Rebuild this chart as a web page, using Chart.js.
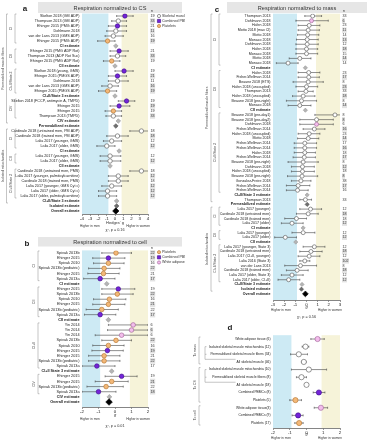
<!DOCTYPE html>
<html>
<head>
<meta charset="utf-8">
<script src="https://cdn.jsdelivr.net/npm/chart.js@4.4.0/dist/chart.umd.min.js"></script>
<style>
body { margin: 0; background: #fff; width: 369px; height: 440px; overflow: hidden; position: relative; }
canvas { position: absolute; }
</style>
</head>
<body>
<canvas id="chartA" width="185" height="234" style="left:0;top:0"></canvas>
<canvas id="chartB" width="185" height="206" style="left:0;top:234px"></canvas>
<canvas id="chartC" width="184" height="322" style="left:185px;top:0"></canvas>
<canvas id="chartD" width="184" height="118" style="left:185px;top:322px"></canvas>
<script>
// ---- panel a: normalized to CS ----
const aLabels = ['Skelton 2018 (GM ADP)', 'Thompson 2013 (GM ADP)', 'Ehinger 2015 (PMG ADP)', 'Dohlmann 2018', 'van der Lans 2013 (GMS ADP)', 'Ehinger 2015 (PMG ADP)', 'CI estimate',
  'Ehinger 2015 (PMG ADP Rot)', 'Thompson 2013 (ADP Rot Suc)', 'Ehinger 2015 (PMG ADP Rot)', 'CII estimate',
  'Skelton 2018 (young, GMS)', 'Ehinger 2015 (PMGS ADP)', 'Dohlmann 2018', 'van der Lans 2013 (GMS ADP)', 'Ehinger 2015 (PMGS ADP)', 'CI+II/State 3 estimate',
  'Skelton 2018 (FCCP, antimycin A, TMPD)', 'Ehinger 2015', 'Ehinger 2015', 'Thompson 2013 (TMPD)', 'CIV estimate', 'Permeabilized estimate',
  'Cardinale 2018 (untrained men, PM ADP)', 'Cardinale 2018 (trained men, PM ADP)', 'Lalia 2017 (younger, GMS)', 'Lalia 2017 (older, GMS)', 'CI estimate',
  'Lalia 2017 (younger, GMS)', 'Lalia 2017 (older, GMS)', 'CII estimate',
  'Cardinale 2018 (untrained men, PMS)', 'Lalia 2017 (younger, palmitoylcarnitine)', 'Cardinale 2018 (trained men, PMS)', 'Lalia 2017 (younger, GMS Cyt c)', 'Lalia 2017 (older, GMS Cyt c)', 'Lalia 2017 (older, palmitoylcarnitine)', 'CI+II/State 3 estimate',
  'Isolated estimate', 'Overall estimate'];
const aG = [1.2, 0.4, 0.3, 0.1, -0.2, -0.9, 0.1, 0.5, 0.3, -0.4, 0.0, 1.1, 0.3, 0.3, -0.6, -0.9, 0.0, 1.4, 0.5, -0.2, -0.2, 0.4, 0.1,
  3.2, 0.3, -0.4, -1.0, 0.5, -0.6, -0.6, -0.6, 3.2, 0.4, 0.4, -0.4, -0.9, -0.9, 0.2, 0.2, 0.1];
const aLo = [0.2, -0.4, -0.8, -1.0, -1.2, -2.1, null, -0.6, -0.6, -1.4, null, 0.0, -0.8, -0.8, -1.6, -2.0, null, 0.4, -0.6, -1.2, -1.1, null, null,
  1.8, -1.0, -1.4, -2.2, null, -1.8, -1.8, null, 1.8, -0.8, -0.8, -1.6, -2.0, -2.0, null, null, null];
const aHi = [2.2, 1.4, 1.4, 1.4, 1.0, 0.0, null, 1.6, 1.3, 0.6, null, 2.2, 1.4, 1.6, 0.4, 0.2, null, 2.4, 1.8, 0.8, 0.8, null, null,
  4.8, 1.6, 0.8, 0.0, null, 0.7, 0.7, null, 4.8, 1.6, 1.6, 0.8, 0.2, 0.2, null, null, null];
const aN = ['19', '33', '21', '11', '16', '19', '', '21', '33', '19', '', '19', '21', '11', '16', '19', '', '19', '19', '19', '33', '', '',
  '18', '18', '12', '12', '', '12', '12', '', '18', '12', '18', '12', '12', '12', '', '', ''];
const aKind = ['p', 's', 'p', 's', 's', 't', 'e', 'p', 's', 't', 'e', 'p', 'p', 's', 's', 't', 'e', 'p', 'p', 't', 's', 'e', 'pe',
  's', 's', 's', 's', 'e', 's', 's', 'e', 's', 's', 's', 's', 's', 's', 'e', 'pe', 'o'];
const aBox = [0, 1, 0, 1, 0, 1, 0, 0, 1, 0, 0, 0, 1, 0, 1, 1, 0, 0, 1, 0, 1, 0, 0,
  0, 1, 0, 1, 0, 0, 1, 0, 0, 1, 0, 1, 1, 1, 0, 0, 0];
const aLegend = ['Skeletal muscle', 'Combined PBMCs', 'Platelets'];
const aLegendKind = ['s', 'p', 't'];

// ---- panel b: normalized to cell ----
const bLabels = ['Spivak 2013b', 'Ehinger 2015', 'Spivak 2010', 'Spivak 2013b (pediatric)', 'Ehinger 2015', 'Spivak 2013a', 'CI estimate',
  'Ehinger 2015', 'Spivak 2013b', 'Spivak 2010', 'Ehinger 2015', 'Spivak 2013b (pediatric)', 'Spivak 2013a', 'CII estimate',
  'Yin 2014', 'Yin 2014', 'Yin 2014', 'Spivak 2013b', 'Spivak 2010', 'Ehinger 2015', 'Ehinger 2015', 'Spivak 2013b (pediatric)', 'Spivak 2013a', 'CI+II State 3 estimate',
  'Ehinger 2015', 'Ehinger 2015', 'Spivak 2013b (pediatric)', 'Spivak 2013a', 'CIV estimate', 'Overall estimate'];
const bG = [0.06, -0.4, -0.4, -0.66, -0.7, -0.9, -0.5, 0.2, 0.14, -0.34, -0.4, -0.8, -0.9, -0.4,
  1.1, 1.0, 0.4, 0.06, -0.4, -0.46, -0.66, -0.66, -1.1, -0.2, 0.4, -0.2, -0.54, -1.0, -0.34, -0.36];
const bLo = [-0.8, -1.35, -1.3, -1.6, -1.65, -1.9, null, -0.8, -0.8, -1.3, -1.35, -1.75, -1.85, null,
  -0.4, -0.45, -1.2, -0.8, -1.35, -1.4, -1.6, -1.6, -2.0, null, -0.6, -1.2, -1.7, -2.0, null, null];
const bHi = [1.0, 0.6, 0.55, 0.3, 0.25, 0.0, null, 1.2, 1.1, 0.66, 0.6, 0.2, 0.05, null,
  2.0, 2.0, 2.0, 1.0, 0.55, 0.5, 0.3, 0.3, 0.0, null, 1.34, 0.8, 0.5, 0.06, null, null];
const bN = ['22', '19', '16', '22', '21', '17', '', '19', '22', '16', '21', '22', '17', '',
  '6', '6', '6', '22', '16', '19', '21', '22', '17', '', '19', '21', '22', '18', '', ''];
const bKind = ['t', 'p', 't', 't', 't', 'p', 'e', 'p', 't', 't', 't', 't', 'p', 'e',
  'w', 'w', 'w', 't', 't', 'p', 't', 't', 'p', 'e', 'p', 't', 't', 'p', 'e', 'o'];
const bBox = [1, 1, 0, 1, 0, 1, 0, 0, 1, 0, 1, 0, 1, 0, 0, 1, 0, 1, 0, 1, 0, 1, 0, 0, 0, 1, 0, 1, 0, 0];
const bLegend = ['Platelets', 'Combined PBMCs', 'White adipose'];
const bLegendKind = ['t', 'p', 'w'];

// ---- panel c: normalized to mass ----
const cLabels = ['Thompson 2013', 'Dohlmann 2018', 'Hafen 2018', 'Motto 2018 (max CI)', 'Motto 2018', 'Monaco 2018', 'Dohlmann 2018', 'Hafen 2018', 'Monaco 2018', 'Motto 2018', 'Monaco 2018', 'CI estimate',
  'Hafen 2018', 'Fisher-Wellman 2014', 'Beaune 2018 (ETS)', 'Hafen 2018 (uncoupled)', 'Thompson 2013', 'Hafen 2018 (uncoupled)', 'Beaune 2018 (pre-night)', 'Monaco 2018', 'CII estimate',
  'Beaune 2018 (pre-day1)', 'Beaune 2018 (pre-day2)', 'Dohlmann 2018', 'Fisher-Wellman 2014', 'Hafen 2018 (uncoupled)', 'Motto 2018', 'Fisher-Wellman 2014', 'Fisher-Wellman 2014', 'Hafen 2018', 'Fisher-Wellman 2014', 'Beaune 2018 (pre-night)', 'Dohlmann 2018', 'Hafen 2018 (uncoupled)', 'Beaune 2018 (pre-night)', 'Gonzalez-Freire 2018', 'Fisher-Wellman 2014', 'Fisher-Wellman 2014', 'CI+II/State 3 estimate',
  'Thompson 2013', 'Permeabilized estimate',
  'Lalia 2017 (younger)', 'Cardinale 2018 (untrained men)', 'Cardinale 2018 (trained men)', 'Lalia 2017 (older)', 'CI estimate',
  'Lalia 2017 (younger)', 'Lalia 2017 (older)', 'CII estimate',
  'Lalia 2017 (younger, State 3)', 'Cardinale 2018 (untrained men)', 'Lalia 2017 (CI+II, younger)', 'Lalia 2016 (State 3)', 'van der Lans 2013', 'Cardinale 2018 (trained men)', 'Lalia 2017 (older, State 3)', 'Lalia 2017 (older, CI+II)', 'CI+II/State 3 estimate',
  'Isolated estimate', 'Overall estimate'];
const cG = [0.55, 0.45, 0.24, 0.15, 0.1, 0.06, 0.06, 0.0, 0.0, -0.6, -1.65, -0.1,
  0.2, 0.2, 0.15, 0.0, -0.05, -0.3, -0.45, -0.6, -0.1,
  2.55, 0.9, 0.9, 0.7, 0.24, 0.15, -0.15, -0.15, -0.15, -0.2, -0.3, -0.36, -0.36, -0.4, -0.5, -0.75, -0.8, 0.06,
  -0.1, 0.06, 0.36, 0.15, -0.9, -1.3, -0.3, -0.3, -1.9, -0.96,
  0.7, 0.4, 0.24, -0.15, -0.54, -0.84, -1.3, -1.6, -0.4, -0.45, -0.1];
const cLo = [-0.15, -0.95, -0.75, -0.75, -0.8, -0.9, -0.95, -0.95, -0.95, -1.55, -2.7, null,
  -0.75, -0.75, -1.2, -0.95, -0.75, -1.25, -1.8, -1.65, null,
  0.75, -0.6, -0.6, -0.3, -0.75, -0.8, -1.1, -1.1, -1.1, -1.2, -1.65, -1.35, -1.35, -1.7, -1.35, -1.8, -1.8, null,
  -0.6, null, -0.6, -0.9, -1.95, -2.25, null, -1.3, -2.85, null,
  -0.3, -0.6, -0.75, -0.6, -1.95, -1.8, -2.25, -2.55, null, null, null];
const cHi = [1.35, 1.95, 1.2, 1.15, 1.1, 1.05, 1.05, 1.0, 1.0, 0.4, -0.75, null,
  1.2, 1.15, 1.5, 1.0, 0.6, 0.75, 0.9, 0.4, null,
  3.8, 2.4, 2.4, 1.65, 1.2, 1.1, 0.9, 0.9, 0.8, 0.8, 1.05, 0.7, 0.7, 1.0, 0.4, 0.3, 0.15, null,
  0.45, null, 1.35, 1.05, 0.0, -0.3, null, 0.75, -0.9, null,
  1.65, 1.4, 1.2, 0.3, 0.9, 0.15, -0.3, -0.6, null, null, null];
const cN = ['33', '6', '23', '11', '14', '13', '12', '18', '15', '14', '14', '',
  '23', '17', '8', '23', '33', '18', '8', '14', '',
  '8', '8', '6', '16', '23', '14', '17', '16', '18', '17', '8', '12', '18', '8', '38', '17', '16', '',
  '33', '', '12', '18', '18', '12', '', '12', '12', '',
  '12', '18', '12', '102', '8', '18', '12', '12', '', '', ''];
const cKind = ['s', 'w', 's', 's', 's', 's', 's', 's', 's', 's', 's', 'e',
  's', 's', 's', 's', 's', 's', 's', 's', 'e',
  's', 's', 'w', 's', 's', 's', 's', 's', 's', 's', 's', 's', 's', 's', 's', 's', 's', 'e',
  's', 'pe', 's', 's', 's', 's', 'e', 's', 's', 'e',
  's', 's', 's', 's', 's', 's', 's', 's', 'e', 'pe', 'o'];
const cBox = [0, 1, 0, 1, 0, 1, 0, 1, 0, 1, 0, 0,
  0, 1, 0, 1, 0, 1, 0, 1, 0,
  0, 1, 0, 1, 0, 1, 0, 1, 0, 1, 0, 1, 0, 1, 0, 1, 0, 0,
  0, 0, 0, 1, 0, 1, 0, 0, 1, 0,
  0, 1, 0, 1, 0, 1, 0, 1, 0, 0, 0];

// ---- panel d: summary by tissue ----
const dLabels = ['White adipose tissue (6)', 'Isolated skeletal muscle mitochondria (12)', 'Permeabilized skeletal muscle fibers (34)', 'All skeletal muscle (46)',
  'Isolated skeletal muscle mitochondria (10)', 'Permeabilized skeletal muscle fibers (8)', 'All skeletal muscle (18)', 'Combined PBMCs (8)', 'Platelets (5)',
  'White adipose tissue(3)', 'Combined PBMCs (9)', 'Platelets (17)'];
const dG = [0.66, -0.06, -0.46, -0.16, 0.14, -0.3, 0.0, 0.74, -0.66, 0.86, -0.5, -0.44];
const dLo = [0.26, -0.26, -0.95, -0.3, -0.9, -0.6, -0.1, 0.4, -1.0, 0.46, -0.86, -0.7];
const dHi = [1.06, 0.14, 0.06, -0.02, 1.2, 0.0, 0.1, 1.1, -0.3, 1.26, -0.2, -0.2];
const dKind = ['w', 's', 's', 's', 's', 's', 's', 'p', 't', 'w', 'p', 't'];

const FONT = "'Liberation Sans', Arial, sans-serif";
const BLUE = '#cdeaf4';
const YELLOW = '#f6f3d9';
const STYLE = {
  s: { bg: '#ffffff', bd: '#505050', shape: 'circle' },
  p: { bg: '#7424d8', bd: '#3c0c86', shape: 'circle' },
  t: { bg: '#f3b878', bd: '#b2702a', shape: 'circle' },
  w: { bg: '#f3bdec', bd: '#9c5e94', shape: 'circle' },
  e: { bg: '#b4b4b4', bd: '#9a9a9a', shape: 'rectRot' },
  pe: { bg: '#6e6e6e', bd: '#555555', shape: 'rectRot' },
  o: { bg: '#000000', bd: '#000000', shape: 'rectRot' }
};
const isEst = k => k === 'e' || k === 'pe' || k === 'o';

function drawMarker(ctx, kind, x, y, r, square) {
  const st = STYLE[kind];
  ctx.fillStyle = st.bg;
  ctx.strokeStyle = st.bd;
  ctx.lineWidth = 0.6;
  ctx.beginPath();
  if (square) ctx.rect(x - r, y - r, 2 * r, 2 * r);
  else ctx.arc(x, y, r, 0, Math.PI * 2);
  ctx.fill();
  ctx.stroke();
}

function bracket(ctx, y, b, lineX, labelX) {
  const y0 = y.getPixelForValue(b.from) - 2, y1 = y.getPixelForValue(b.to) + 2;
  ctx.beginPath();
  ctx.moveTo(lineX + 1.5, y0); ctx.lineTo(lineX, y0); ctx.lineTo(lineX, y1); ctx.lineTo(lineX + 1.5, y1);
  ctx.stroke();
  ctx.save();
  ctx.translate(labelX, (y0 + y1) / 2);
  ctx.rotate(-Math.PI / 2);
  ctx.textAlign = 'center';
  ctx.textBaseline = 'middle';
  ctx.fillText(b.label, 0, 0);
  ctx.restore();
}

function forestPlugin(o) {
  return {
    id: 'forest',
    beforeDraw(chart) {
      const { ctx, chartArea: ca, scales: { x } } = chart;
      const xb = x.getPixelForValue(-o.band), xw = x.getPixelForValue(o.band);
      ctx.save();
      ctx.fillStyle = BLUE;
      ctx.fillRect(ca.left, ca.top, xb - ca.left, ca.bottom - ca.top);
      ctx.fillStyle = YELLOW;
      ctx.fillRect(xw, ca.top, ca.right - xw, ca.bottom - ca.top);
      ctx.restore();
    },
    beforeDatasetsDraw(chart) {
      const { ctx, chartArea: ca, scales: { x, y } } = chart;
      ctx.save();
      ctx.beginPath();
      ctx.rect(ca.left, ca.top, ca.right - ca.left, ca.bottom - ca.top);
      ctx.clip();
      ctx.strokeStyle = '#444';
      ctx.lineWidth = 0.6;
      o.g.forEach((v, i) => {
        if (o.lo[i] == null) return;
        const py = y.getPixelForValue(i);
        const x0 = x.getPixelForValue(o.lo[i]), x1 = x.getPixelForValue(o.hi[i]);
        ctx.beginPath();
        ctx.moveTo(x0, py); ctx.lineTo(x1, py);
        ctx.moveTo(x0, py - 1); ctx.lineTo(x0, py + 1);
        ctx.moveTo(x1, py - 1); ctx.lineTo(x1, py + 1);
        ctx.stroke();
      });
      ctx.restore();
    },
    afterDraw(chart) {
      const { ctx, chartArea: ca, scales: { x, y } } = chart;
      const w = ca.right - ca.left;
      ctx.save();
      ctx.fillStyle = '#333';
      // title bar
      if (o.title) {
        ctx.fillStyle = '#e6e6e6';
        ctx.fillRect(o.title.x, o.title.y, o.title.w, o.title.h);
        ctx.fillStyle = '#333';
        ctx.font = '5.6px ' + FONT;
        ctx.textAlign = 'center';
        ctx.textBaseline = 'middle';
        ctx.fillText(o.title.text, o.title.x + o.title.w / 2, o.title.y + o.title.h / 2 + 0.5);
      }
      // panel letter
      ctx.font = 'bold 8px ' + FONT;
      ctx.textAlign = 'center';
      ctx.textBaseline = 'middle';
      ctx.fillStyle = '#222';
      ctx.fillText(o.letter.text, o.letter.x, o.letter.y);
      ctx.fillStyle = '#333';
      // n header
      if (o.nHead) {
        ctx.font = '3.8px ' + FONT;
        ctx.textAlign = 'left';
        ctx.fillText('n', ca.right + 3, ca.top - 2.5);
      }
      // legend
      if (o.legend) {
        ctx.font = '3.6px ' + FONT;
        ctx.textAlign = 'left';
        o.legend.forEach((t, i) => {
          const py = y.getPixelForValue(i) + o.legendDy;
          drawMarker(ctx, o.legendKind[i], ca.right + o.legendX, py, 1.6, o.legendKind[i] === 'p');
          ctx.fillStyle = '#333';
          ctx.fillText(t, ca.right + o.legendX + 3, py);
        });
      }
      // axis texts
      ctx.textAlign = 'center';
      ctx.font = (o.axisTitle.length > 2 ? '4px ' : 'italic 4px ') + FONT;
      ctx.fillText(o.axisTitle, (ca.left + ca.right) / 2, ca.bottom + o.titleDy);
      ctx.font = '3.2px ' + FONT;
      ctx.fillText('Higher in men', ca.left + w * 0.12, ca.bottom + o.menDy);
      ctx.fillText('Higher in women', ca.left + w * 0.85, ca.bottom + o.menDy);
      if (o.chi) {
        ctx.font = '3.8px ' + FONT;
        ctx.fillText(o.chi, (ca.left + ca.right) / 2, ca.bottom + o.chiDy);
      }
      // group brackets
      ctx.strokeStyle = '#8a8a8a';
      ctx.lineWidth = 0.5;
      ctx.fillStyle = '#444';
      ctx.font = '3.4px ' + FONT;
      (o.outer || []).forEach(b => bracket(ctx, y, b, o.outerX, o.outerLabelX));
      (o.inner || []).forEach(b => bracket(ctx, y, b, o.innerX, o.innerLabelX));
      // tree connectors (panel d)
      (o.tree || []).forEach(t => {
        ctx.font = o.fs + 'px ' + FONT;
        const labelStart = ca.left - o.labelPad - ctx.measureText(o.labels[t.join]).width - 1;
        const yA = y.getPixelForValue(t.rows[0]);
        const yJ = y.getPixelForValue(t.join) - 2.6;
        ctx.beginPath();
        ctx.moveTo(o.treeX, yA); ctx.lineTo(o.treeX, yJ); ctx.lineTo(labelStart, yJ);
        t.rows.forEach(r => {
          const yr = y.getPixelForValue(r);
          ctx.moveTo(o.treeX, yr); ctx.lineTo(o.treeX + 1.5, yr);
        });
        ctx.stroke();
      });
      ctx.restore();
    }
  };
}

function forest(id, o) {
  const setRows = s => { s.ticks = o.labels.map((_, i) => ({ value: i })); };
  const yMax = o.labels.length - 0.5 + o.tail;
  const scales = {
    x: {
      type: 'linear', min: o.xMin, max: o.xMax,
      afterFit: s => { s.height = o.bottomH; },
      ticks: { stepSize: 1, autoSkip: false, maxRotation: 0, padding: 0.5, color: '#222', font: { size: 4.4, family: FONT } },
      grid: { drawOnChartArea: false, tickLength: 1.8, color: '#333', lineWidth: 0.6 },
      border: { color: '#333', width: 0.6 }
    },
    y: {
      type: 'linear', reverse: true, min: -0.5, max: yMax,
      afterBuildTicks: setRows,
      afterFit: s => { s.width = o.leftW; },
      grid: { display: false, drawTicks: false },
      border: { display: false },
      ticks: {
        autoSkip: false, padding: o.labelPad, color: '#222',
        font: c => ({ size: o.fs, family: FONT, weight: isEst(o.kind[c.index]) ? 'bold' : 'normal' }),
        callback: v => o.labels[v]
      }
    }
  };
  if (o.n) {
    scales.yn = {
      type: 'linear', position: 'right', reverse: true, min: -0.5, max: yMax,
      afterBuildTicks: setRows,
      afterFit: s => { s.width = o.rightW; },
      grid: { display: false, drawTicks: false },
      border: { display: false },
      ticks: {
        autoSkip: false, padding: 2.5, color: '#333',
        font: { size: o.fs, family: FONT },
        showLabelBackdrop: c => !!o.box[c.index] && o.n[c.index] !== '',
        backdropColor: '#e2e2e2',
        backdropPadding: 0.5,
        callback: v => o.n[v]
      }
    };
  }
  return new Chart(document.getElementById(id), {
    type: 'scatter',
    data: {
      datasets: [{
        data: o.g.map((v, i) => ({ x: v, y: i })),
        pointStyle: o.kind.map(k => STYLE[k].shape),
        pointRadius: o.kind.map(k => k === 'o' ? o.r * 1.45 : isEst(k) ? o.r * 1.05 : o.r),
        pointHoverRadius: o.kind.map(k => k === 'o' ? o.r * 1.45 : isEst(k) ? o.r * 1.05 : o.r),
        backgroundColor: o.kind.map(k => STYLE[k].bg),
        borderColor: o.kind.map(k => STYLE[k].bd),
        borderWidth: 0.6
      }]
    },
    options: {
      responsive: false,
      animation: false,
      devicePixelRatio: 1,
      events: [],
      layout: { padding: { top: o.top, left: 0, right: o.padRight || 0, bottom: 0 } },
      plugins: { legend: { display: false }, tooltip: { enabled: false } },
      scales: scales
    },
    plugins: [forestPlugin(o)]
  });
}

forest('chartA', {
  labels: aLabels, g: aG, lo: aLo, hi: aHi, n: aN, kind: aKind, box: aBox,
  xMin: -4, xMax: 4, band: 0.8, tail: 0.1, top: 13.5, leftW: 82, rightW: 37, bottomH: 20,
  fs: 3.7, r: 2.2, labelPad: 2.5,
  title: { x: 38, y: 2, w: 144, h: 11, text: 'Respiration normalized to CS' },
  letter: { x: 25, y: 9, text: 'a' }, nHead: true,
  legend: aLegend, legendKind: aLegendKind, legendX: 11, legendDy: 0,
  axisTitle: "Hedges' g", titleDy: 8.7, menDy: 11.8, chi: 'χ², p = 0.16', chiDy: 15.5,
  outer: [{ from: 0, to: 21, label: 'Permeabilized muscle fibers' }, { from: 23, to: 37, label: 'Isolated mitochondria' }],
  outerX: 6.5, outerLabelX: 3,
  inner: [{ from: 0, to: 5, label: 'CI' }, { from: 7, to: 9, label: 'CII' }, { from: 11, to: 15, label: 'CI+II/State 3' }, { from: 17, to: 20, label: 'CIV' },
    { from: 23, to: 26, label: 'CI' }, { from: 28, to: 29, label: 'CII' }, { from: 31, to: 36, label: 'CI+II/State 3' }],
  innerX: 15, innerLabelX: 11.5
});

forest('chartB', {
  labels: bLabels, g: bG, lo: bLo, hi: bHi, n: bN, kind: bKind, box: bBox,
  xMin: -2, xMax: 2, band: 0.9, tail: 0.47, top: 16.4, leftW: 82, rightW: 37, bottomH: 33,
  fs: 3.8, r: 2.3, labelPad: 2.5,
  title: { x: 38, y: 3, w: 144, h: 9.5, text: 'Respiration normalized to cell' },
  letter: { x: 27, y: 10, text: 'b' }, nHead: true,
  legend: bLegend, legendKind: bLegendKind, legendX: 11, legendDy: -0.8,
  axisTitle: 'g', titleDy: 8, menDy: 12.5, chi: 'χ², p = 0.01', chiDy: 19,
  inner: [{ from: 0, to: 5, label: 'CI' }, { from: 7, to: 12, label: 'CII' }, { from: 14, to: 22, label: 'CI+II' }, { from: 24, to: 27, label: 'CIV' }],
  innerX: 38, innerLabelX: 34.5
});

forest('chartC', {
  labels: cLabels, g: cG, lo: cLo, hi: cHi, n: cN, kind: cKind, box: cBox,
  xMin: -3, xMax: 3, band: 0.85, tail: 0.8, top: 13.65, leftW: 88, rightW: 29, bottomH: 22,
  fs: 3.6, r: 2.0, labelPad: 2.5,
  title: { x: 42, y: 2, w: 140, h: 11, text: 'Respiration normalized to mass' },
  letter: { x: 32, y: 10, text: 'c' }, nHead: true,
  axisTitle: 'g', titleDy: 7, menDy: 10.5, chi: 'χ², p = 0.56', chiDy: 17,
  outer: [{ from: 0, to: 39, label: 'Permeabilized muscle fibers' }, { from: 41, to: 58, label: 'Isolated mitochondria' }],
  outerX: 26, outerLabelX: 22.5,
  inner: [{ from: 0, to: 10, label: 'CI' }, { from: 12, to: 19, label: 'CII' }, { from: 21, to: 37, label: 'CI+II/State 3' },
    { from: 41, to: 44, label: 'CI' }, { from: 46, to: 47, label: 'CII' }, { from: 49, to: 56, label: 'CI+II/State 3' }],
  innerX: 34, innerLabelX: 30.5
});

forest('chartD', {
  labels: dLabels, g: dG, lo: dLo, hi: dHi, kind: dKind,
  xMin: -2, xMax: 2, band: 0.9, tail: 0.15, top: 13.2, leftW: 88, padRight: 29, bottomH: 12,
  fs: 3.3, r: 2.6, labelPad: 2.5,
  letter: { x: 45, y: 6, text: 'd' },
  axisTitle: 'g', titleDy: 6.3, menDy: 9.8,
  outer: [{ from: 0, to: 3, label: 'To mass' }, { from: 4, to: 8, label: 'To CS' }, { from: 9, to: 11, label: 'To cell' }],
  outerX: 14, outerLabelX: 10.5,
  tree: [{ rows: [1, 2], join: 3 }, { rows: [4, 5], join: 6 }], treeX: 20
});
</script>
</body>
</html>
